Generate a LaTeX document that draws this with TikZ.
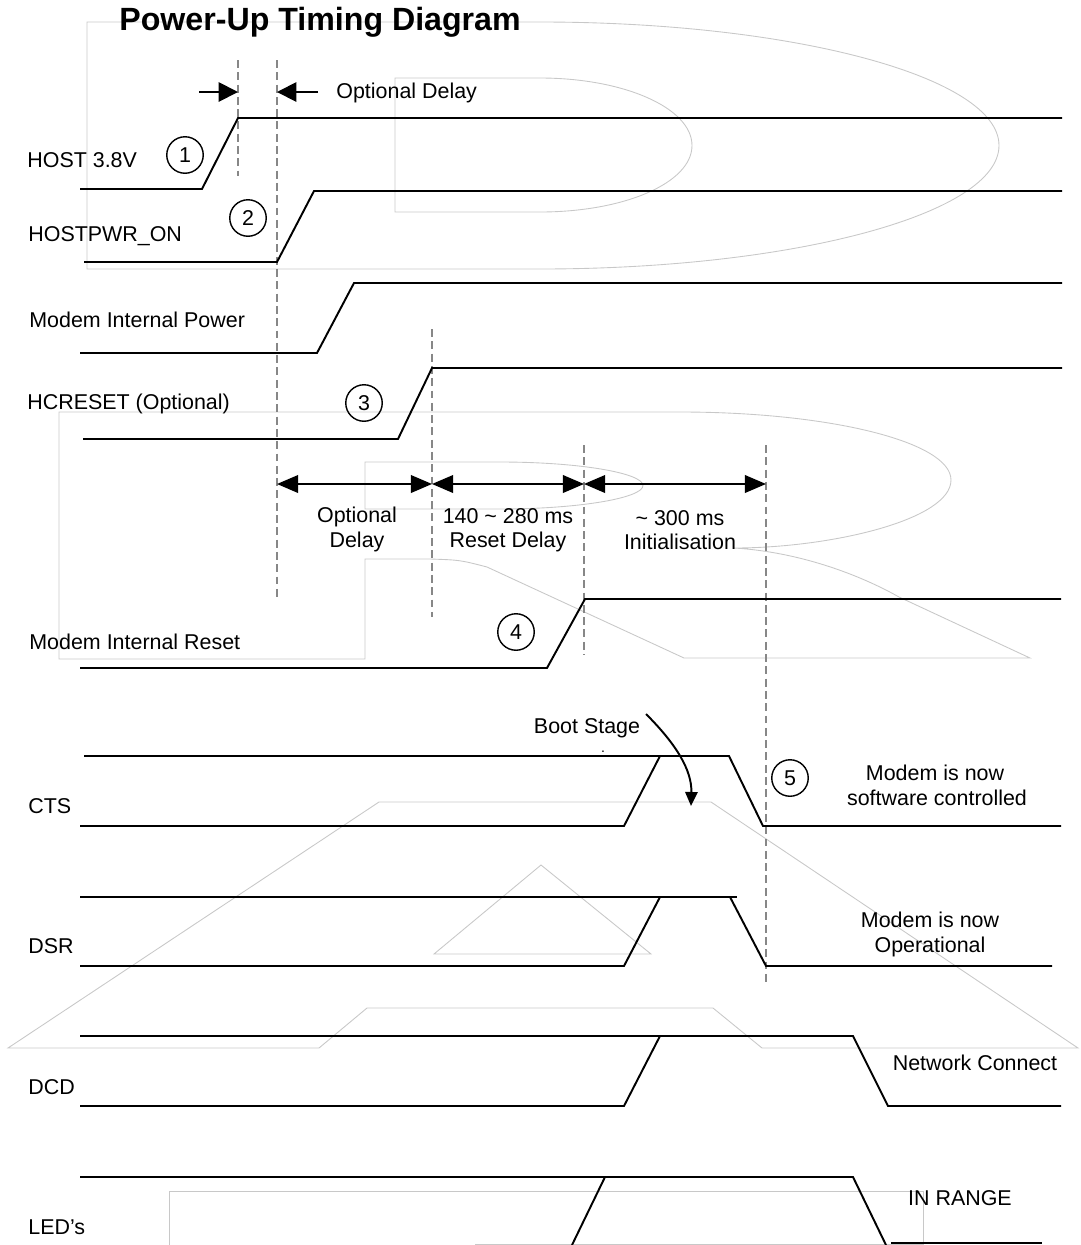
\documentclass[tikz,border=0pt]{standalone}
\usepackage{fontspec}
\setmainfont{Liberation Sans}
\usepackage{tikz}
\usetikzlibrary{arrows.meta}
\definecolor{wmgray}{RGB}{200,200,200}
\definecolor{guidegray}{RGB}{135,135,135}

\begin{document}
\begin{tikzpicture}[x=0.02cm, y=-0.02cm,
    sig/.style={line width=1.1pt},
    guide/.style={color=guidegray, line width=0.6pt, dash pattern=on 4.5pt off 2.5pt},
    wm/.style={color=wmgray, line width=0.5pt},
    dimline/.style={line width=1.1pt, {Triangle[length=12pt,width=10pt]}-{Triangle[length=12pt,width=10pt]}},
    lbl/.style={anchor=base west, inner sep=0pt, font=\fontsize{12.2}{14}\selectfont},
    txt/.style={anchor=base, inner sep=0pt, font=\fontsize{12.2}{14}\selectfont},
    num/.style={draw, circle, line width=0.8pt, minimum size=0.73cm, inner sep=0pt, font=\fontsize{12.2}{14}\selectfont}]
    \useasboundingbox (0,0) rectangle (1080,1245);

    % watermark
    \draw[wm] (87,22) -- (540,22) .. controls (793,22) and (999,77) .. (999,145.5)
        .. controls (999,214) and (793,269) .. (540,269) -- (87,269) -- cycle;
    \draw[wm] (395,78) -- (540,78) .. controls (624,78) and (692,108) .. (692,145.5)
        .. controls (692,183) and (624,212) .. (540,212) -- (395,212) -- cycle;
    \draw[wm] (59,412) -- (680,412) .. controls (830,412) and (951,442) .. (951,480)
        .. controls (951,520) and (830,548) .. (734,548)
        .. controls (800,552) and (860,575) .. (899,597) -- (1030,658) -- (684,658)
        -- (487,567) .. controls (460,560) .. (430,559) -- (365,559) -- (365,659) -- (59,659) -- cycle;
    \draw[wm] (365,462) -- (500,462) .. controls (579,462) and (643,473) .. (643,485.5)
        .. controls (643,498) and (579,509) .. (500,509) -- (365,509) -- cycle;
    \draw[wm] (379,802) -- (711,802) -- (1078,1048) -- (762,1048) -- (713,1008) -- (367,1008)
        -- (319,1048) -- (8,1048) -- cycle;
    \draw[wm] (541,865) -- (651,954) -- (434,954) -- cycle;
    \draw[wm] (169,1250) -- (169,1191) -- (923,1191) -- (923,1250);
    \draw[wm] (475,1244) -- (923,1244);

    % markers
    \coordinate (m1a) at (238,60);  \coordinate (m1b) at (238,176);
    \coordinate (m2a) at (277,60);  \coordinate (m2b) at (277,598);
    \coordinate (m3a) at (432,329); \coordinate (m3b) at (432,617);
    \coordinate (m4a) at (584,445); \coordinate (m4b) at (584,655);
    \coordinate (m5a) at (766,445); \coordinate (m5b) at (766,983);
    \draw[guide] (m1a) -- (m1b);
    \draw[guide] (m2a) -- (m2b);
    \draw[guide] (m3a) -- (m3b);
    \draw[guide] (m4a) -- (m4b);
    \draw[guide] (m5a) -- (m5b);

    \node[inner sep=0pt, font=\bfseries\fontsize{18.3}{20}\selectfont, anchor=base west] (title) at (119,30) {Power-Up Timing Diagram};

    \coordinate (p1) at (199,92);  \coordinate (p2) at (238,92);
    \coordinate (p3) at (318,92);  \coordinate (p4) at (277,92);
    \draw[sig, -{Triangle[length=11pt,width=11pt]}] (p1) -- (p2);
    \draw[sig, -{Triangle[length=11pt,width=11pt]}] (p3) -- (p4);
    \node[lbl] (optdelay) at (336,98) {Optional Delay};

    % signals
    \node[lbl] (host) at (27,167) {HOST 3.8V};
    \draw[sig] (80,189) -- (202,189) -- (238,118) -- (1062,118);
    \node[num] (n1) at (185,155) {1};

    \node[lbl] (hostpwr) at (28,241) {HOSTPWR\_ON};
    \draw[sig] (84,262) -- (277,262) -- (314,191) -- (1062,191);
    \node[num] (n2) at (248,218) {2};

    \node[lbl] (mip) at (29,327) {Modem Internal Power};
    \draw[sig] (80,353) -- (317,353) -- (354,283) -- (1062,283);

    \node[lbl] (hcreset) at (27,409) {HCRESET (Optional)};
    \draw[sig] (83,439) -- (398,439) -- (432,368) -- (1062,368);
    \node[num] (n3) at (364,403) {3};

    \coordinate (d1) at (277,484); \coordinate (d2) at (432,484);
    \coordinate (d3) at (584,484); \coordinate (d4) at (766,484);
    \draw[dimline] (d1) -- (d2);
    \draw[dimline] (d2) -- (d3);
    \draw[dimline] (d3) -- (d4);
    \node[txt] (opt1) at (357,522) {Optional};
    \node[txt] (opt2) at (357,547) {Delay};
    \node[txt] (rst1) at (508,523) {140 \textasciitilde{} 280 ms};
    \node[txt] (rst2) at (508,547) {Reset Delay};
    \node[txt] (ini1) at (680,525) {\textasciitilde{} 300 ms};
    \node[txt] (ini2) at (680,549) {Initialisation};

    \node[lbl] (mir) at (29,649) {Modem Internal Reset};
    \draw[sig] (80,668) -- (547,668) -- (585,599) -- (1061,599);
    \node[num] (n4) at (516,632) {4};

    \node[txt] (boot) at (587,733) {Boot Stage};
    \node[txt, font=\fontsize{8}{9}\selectfont] (bootdot) at (603,752) {.};
    \coordinate (b1) at (646,714); \coordinate (b2) at (691,806);
    \draw[line width=1.1pt, -{Triangle[length=8pt,width=7pt]}] (b1) .. controls (676,744) and (692,770) .. (b2);

    \node[lbl] (cts) at (28,813) {CTS};
    \draw[sig] (84,756) -- (729,756) -- (763,826) -- (1061,826);
    \draw[sig] (80,826) -- (624,826) -- (660,756);
    \node[num] (n5) at (790,778) {5};
    \node[txt] (sw1) at (935,780) {Modem is now};
    \node[txt] (sw2) at (937,805) {software controlled};

    \node[lbl] (dsr) at (28,953) {DSR};
    \draw[sig] (80,897) -- (737,897);
    \draw[sig] (730,897) -- (766,966) -- (1052,966);
    \draw[sig] (80,966) -- (624,966) -- (660,897);
    \node[txt] (op1) at (930,927) {Modem is now};
    \node[txt] (op2) at (930,952) {Operational};

    \node[lbl] (dcd) at (28,1094) {DCD};
    \draw[sig] (80,1036) -- (853,1036) -- (888,1106) -- (1061,1106);
    \draw[sig] (80,1106) -- (624,1106) -- (660,1036);
    \node[txt] (net) at (975,1070) {Network Connect};

    \node[lbl] (leds) at (28,1234) {LED’s};
    \draw[sig] (80,1177) -- (853,1177) -- (886,1245);
    \draw[sig] (572,1245) -- (605,1177);
    \draw[sig] (891,1243) -- (1042,1243);
    \node[txt] (range) at (960,1205) {IN RANGE};
\end{tikzpicture}
\end{document}
